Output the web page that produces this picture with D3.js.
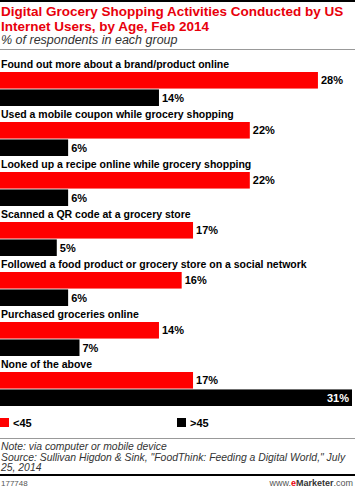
<!DOCTYPE html>
<html>
<head>
<meta charset="utf-8">
<script src="https://cdn.jsdelivr.net/npm/d3@7"></script>
<style>
body{margin:0;background:#fff;}
svg{display:block;font-family:"Liberation Sans",Arial,sans-serif;}
</style>
</head>
<body>
<script>
var categories = [
  "Found out more about a brand/product online",
  "Used a mobile coupon while grocery shopping",
  "Looked up a recipe online while grocery shopping",
  "Scanned a QR code at a grocery store",
  "Followed a food product or grocery store on a social network",
  "Purchased groceries online",
  "None of the above"
];
var seriesNames = ["<45", ">45"];
var under45 = [28, 22, 22, 17, 16, 14, 17];
var over45 = [14, 6, 6, 5, 6, 7, 31];
var colors = ["#ff0000", "#000000"];

var width = 355;
var height = 488;

var svg = d3.select("body")
.append("svg")
.attr("width", width)
.attr("height", height);

// header
svg.append("rect").attr("x",0).attr("y",0).attr("width",width).attr("height",2).attr("fill","#000");
svg.append("text").attr("x",1).attr("y",16)
.attr("font-size","13.5px").attr("font-weight","bold").attr("fill","#e8000b")
.text("Digital Grocery Shopping Activities Conducted by US");
svg.append("text").attr("x",1).attr("y",30.5)
.attr("font-size","13.5px").attr("font-weight","bold").attr("fill","#e8000b")
.text("Internet Users, by Age, Feb 2014");
svg.append("text").attr("x",1).attr("y",44)
.attr("font-size","12.5px").attr("font-style","italic").attr("fill","#333")
.text("% of respondents in each group");
svg.append("rect").attr("x",0).attr("y",49).attr("width",width).attr("height",1).attr("fill","#999");

var data = categories.map(function(c,i){
  return {cat:c, values:[under45[i], over45[i]]};
});

var xScale = d3.scaleLinear()
.domain([0,31])
.range([0,352]);

var yScale = d3.scaleBand()
.domain(categories)
.range([58,408]);

var inner = d3.scaleBand()
.domain(seriesNames)
.range([14,48])
.paddingInner(0.05);

var groups = svg.selectAll(".grp")
.data(data)
.enter()
.append("g")
.attr("class","grp")
.attr("transform",function(d){ return "translate(0," + yScale(d.cat) + ")"; });

groups.append("text")
.attr("x",1)
.attr("y",10)
.attr("font-size","10.5px")
.attr("font-weight","bold")
.attr("fill","#000")
.text(function(d){ return d.cat; });

groups.selectAll("rect")
.data(function(d){ return d.values.map(function(v,j){ return {name:seriesNames[j], v:v, j:j}; }); })
.enter()
.append("rect")
.attr("x",0)
.attr("y",function(d){ return inner(d.name); })
.attr("width",function(d){ return xScale(d.v); })
.attr("height",inner.bandwidth())
.attr("fill",function(d){ return colors[d.j]; });

groups.selectAll(".val")
.data(function(d){ return d.values.map(function(v,j){ return {name:seriesNames[j], v:v, j:j}; }); })
.enter()
.append("text")
.attr("class","val")
.attr("font-size","11px")
.attr("font-weight","bold")
.attr("y",function(d){ return inner(d.name) + inner.bandwidth()/2 + 4; })
.attr("x",function(d){
  var w = xScale(d.v);
  return w > 320 ? w - 3 : w + 3;
})
.attr("text-anchor",function(d){ return xScale(d.v) > 320 ? "end" : "start"; })
.attr("fill",function(d){ return xScale(d.v) > 320 ? "#fff" : "#000"; })
.text(function(d){ return d.v + "%"; });

// legend
var legend = svg.selectAll(".leg")
.data(seriesNames)
.enter()
.append("g")
.attr("class","leg")
.attr("transform",function(d,i){ return "translate(" + (i*177) + ",418)"; });
legend.append("rect").attr("x",0).attr("y",0).attr("width",9).attr("height",9)
.attr("fill",function(d,i){ return colors[i]; });
legend.append("text").attr("x",13).attr("y",9)
.attr("font-size","11px").attr("font-weight","bold").attr("fill","#000")
.text(function(d){ return d; });

// footer
svg.append("rect").attr("x",0).attr("y",438).attr("width",width).attr("height",1).attr("fill","#999");
var notes = ["Note: via computer or mobile device",
  "Source: Sullivan Higdon & Sink, \"FoodThink: Feeding a Digital World,\" July",
  "25, 2014"];
svg.selectAll(".note")
.data(notes)
.enter()
.append("text")
.attr("class","note")
.attr("x",1)
.attr("y",function(d,i){ return 450 + i*10.5; })
.attr("font-size","10.4px")
.attr("font-style","italic")
.attr("fill","#333")
.text(function(d){ return d; });
svg.append("rect").attr("x",0).attr("y",474).attr("width",width).attr("height",2).attr("fill","#000");
svg.append("text").attr("x",1).attr("y",486).attr("font-size","8px").attr("fill","#555").text("177748");
var brand = svg.append("text").attr("x",353).attr("y",486).attr("font-size","9px").attr("text-anchor","end").attr("fill","#555");
brand.append("tspan").text("www.");
brand.append("tspan").attr("fill","#e8000b").attr("font-weight","bold").text("e");
brand.append("tspan").attr("fill","#333").attr("font-weight","bold").text("Marketer");
brand.append("tspan").text(".com");
</script>
</body>
</html>
